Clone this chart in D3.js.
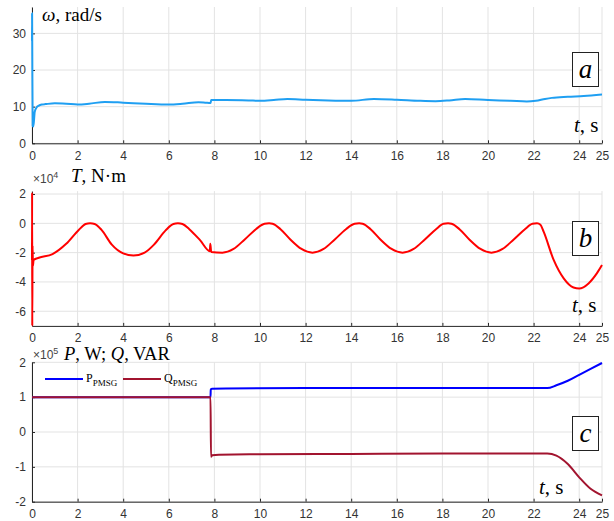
<!DOCTYPE html>
<html>
<head>
<meta charset="utf-8">
<script src="https://cdn.jsdelivr.net/npm/d3@7"></script>
<style>
  body { margin: 0; background: #fff; }
  .tick text { font-family: "Liberation Sans", Arial, sans-serif; font-size: 12px; fill: #333; }
  .serif { font-family: "Liberation Serif", "Times New Roman", serif; fill: #000; }
</style>
</head>
<body>
<div id="chart"></div>
<script>
// time axis ticks shared by all panels
const xTicks = [0, 2, 4, 6, 8, 10, 12, 14, 16, 18, 20, 22, 24, 25];

// (a) rotor speed, rad/s
const omegaT = [0, 0.004, 0.012, 0.03, 0.06, 0.12, 0.2, 0.3, 0.45, 0.6, 1.0, 1.5, 2.0, 2.5, 3.2, 4.0, 5.0, 6.0, 6.6, 7.3, 7.6, 7.83, 7.86, 8.5, 9.5, 10.0, 10.6, 11.2, 12.0, 13.0, 14.0, 15.0, 16.0, 17.0, 17.7, 18.3, 19.0, 20.0, 21.0, 21.7, 22.1, 22.5, 22.8, 23.5, 24.2, 25];
const omegaV = [28, 35.5, 25, 4.8, 4.6, 8.6, 9.8, 10.3, 10.6, 10.7, 10.9, 10.8, 10.6, 10.8, 11.3, 11.1, 10.8, 10.6, 10.8, 11.2, 11.1, 11.0, 11.8, 11.8, 11.7, 11.6, 11.8, 12.1, 11.9, 11.7, 11.6, 12.1, 11.9, 11.6, 11.5, 11.7, 12.1, 11.8, 11.6, 11.4, 11.6, 12.1, 12.4, 12.7, 12.9, 13.3];

// (b) torque, x10^4 N·m
const torqueT = [0, 0.005, 0.012, 0.025, 0.04, 0.07, 0.3, 0.9, 1.5, 2.05, 2.35, 2.55, 2.75, 3.05, 3.5, 4.0, 4.45, 4.94, 5.35, 5.85, 6.2, 6.4, 6.6, 6.9, 7.37, 7.8, 7.82, 7.86, 8.35, 8.84, 9.33, 9.82, 10.2, 10.4, 10.55, 10.9, 11.33, 11.82, 12.3, 12.79, 13.28, 13.77, 14.15, 14.35, 14.5, 14.85, 15.28, 15.77, 16.25, 16.74, 17.23, 17.72, 18.05, 18.25, 18.4, 18.75, 19.18, 19.67, 20.15, 20.64, 21.13, 21.62, 21.95, 22.15, 22.3, 22.44, 22.88, 23.32, 23.75, 24.0, 24.41, 24.78, 25];
const torqueV = [-2.5, 2.1, -7, -1.5, -2.9, -2.5, -2.35, -2.1, -1.4, -0.45, -0.05, 0, -0.05, -0.45, -1.45, -2.05, -2.2, -2.0, -1.45, -0.5, -0.05, 0, -0.05, -0.4, -1.15, -1.9, -1.4, -1.95, -2.0, -1.75, -1.1, -0.4, -0.03, 0, -0.03, -0.4, -1.1, -1.75, -2.0, -1.75, -1.1, -0.4, -0.03, 0, -0.03, -0.4, -1.1, -1.75, -2.0, -1.75, -1.1, -0.4, -0.03, 0, -0.03, -0.4, -1.1, -1.75, -2.0, -1.75, -1.1, -0.4, -0.03, 0, -0.1, -0.57, -2.5, -3.76, -4.38, -4.45, -4.1, -3.4, -2.85];

// (c) active and reactive power, x10^5
const pT = [0, 7.83, 7.84, 7.9, 8.5, 12, 16, 22.6, 23.0, 23.5, 24.0, 24.5, 25];
const pV = [1.0, 1.0, 1.22, 1.24, 1.25, 1.26, 1.26, 1.26, 1.34, 1.47, 1.64, 1.81, 1.98];
const qT = [0, 7.83, 7.85, 7.9, 8.2, 10, 14, 18, 22.6, 23.0, 23.5, 24.0, 24.5, 25];
const qV = [1.0, 1.0, -0.71, -0.67, -0.65, -0.64, -0.63, -0.62, -0.62, -0.68, -0.92, -1.3, -1.63, -1.82];

const legendNames = ['P', 'Q'];
const legendSub = 'PMSG';

const W = 614, H = 521;
const left = 32, right = 602;

const svg = d3.select('#chart').append('svg')
    .attr('width', W)
    .attr('height', H);

const x = d3.scaleLinear().domain([0, 25]).range([left, right]);

// plain labels like MATLAB: "-2", "0", "25"
const fmt = d => String(d);

// one panel: grid, axes and lines
function panel(cfg) {
    const y = d3.scaleLinear().domain(cfg.yDomain).range(cfg.yRange);
    const g = svg.append('g');
    const top = cfg.yRange[1], bottom = cfg.yRange[0];

    // grid
    g.append('g').selectAll('line').data(xTicks).join('line')
        .attr('x1', d => x(d)).attr('x2', d => x(d))
        .attr('y1', top).attr('y2', bottom)
        .attr('stroke', '#e3e3e3').attr('stroke-width', 1);
    g.append('g').selectAll('line').data(cfg.yTicks).join('line')
        .attr('x1', left).attr('x2', right)
        .attr('y1', d => y(d)).attr('y2', d => y(d))
        .attr('stroke', '#e3e3e3').attr('stroke-width', 1);

    // axes
    const xa = g.append('g')
        .attr('transform', 'translate(0,' + bottom + ')')
        .call(d3.axisBottom(x).tickValues(xTicks).tickFormat(fmt)
            .tickSizeInner(-3).tickSizeOuter(0).tickPadding(8));
    const ya = g.append('g')
        .attr('transform', 'translate(' + left + ',0)')
        .call(d3.axisLeft(y).tickValues(cfg.yTicks).tickFormat(fmt)
            .tickSizeInner(-3).tickSizeOuter(0).tickPadding(6));
    [xa, ya].forEach(a => {
        a.select('.domain').attr('stroke', '#262626');
        a.selectAll('.tick line').attr('stroke', '#262626');
    });

    // series
    cfg.series.forEach(s => {
        const pts = s.t.map((t, i) => [t, s.v[i]]);
        g.append('path')
            .datum(pts)
            .attr('fill', 'none')
            .attr('stroke', s.color)
            .attr('stroke-width', 2)
            .attr('stroke-linejoin', 'round')
            .attr('d', d3.line().x(d => x(d[0])).y(d => y(d[1])).curve(d3.curveMonotoneX));
    });

    // letter box
    g.append('rect')
        .attr('x', 572.5).attr('y', cfg.boxY)
        .attr('width', 26).attr('height', 34)
        .attr('fill', '#fff').attr('stroke', '#222').attr('stroke-width', 1);
    g.append('text').attr('class', 'serif')
        .attr('x', 585.5).attr('y', cfg.boxY + 25)
        .attr('text-anchor', 'middle')
        .style('font-size', '27px').style('font-style', 'italic')
        .text(cfg.letter);

    // "t, s"
    const ts = g.append('text').attr('class', 'serif')
        .attr('x', cfg.tsX).attr('y', cfg.tsY)
        .style('font-size', '21px');
    ts.append('tspan').style('font-style', 'italic').text('t');
    ts.append('tspan').text(', s');

    return { g, y };
}

// exponent note above the y axis
function multiplier(xPos, yPos, exp) {
    const t = svg.append('text')
        .attr('x', xPos).attr('y', yPos)
        .style('font-family', '"Liberation Sans", Arial, sans-serif')
        .style('font-size', '12px').style('fill', '#444');
    t.append('tspan').text('×10');
    t.append('tspan').attr('dy', -5).style('font-size', '9px').text(exp);
}

// (a)
panel({
    yDomain: [0, 37.2], yRange: [143.3, 7], yTicks: [0, 10, 20, 30],
    series: [{ t: omegaT, v: omegaV, color: '#1f9ff2' }],
    boxY: 52.5, letter: 'a', tsX: 574, tsY: 132
});
const ta = svg.append('text').attr('class', 'serif')
    .attr('x', 42).attr('y', 21).style('font-size', '19px');
ta.append('tspan').style('font-style', 'italic').text('ω');
ta.append('tspan').text(', rad/s');

// (b)
panel({
    yDomain: [-7, 2.2], yRange: [325.9, 191.1], yTicks: [-6, -4, -2, 0, 2],
    series: [{ t: torqueT, v: torqueV, color: '#ff0000' }],
    boxY: 221.5, letter: 'b', tsX: 572, tsY: 312
});
multiplier(33, 183, '4');
const tb = svg.append('text').attr('class', 'serif')
    .attr('x', 71).attr('y', 182).style('font-size', '19px');
tb.append('tspan').style('font-style', 'italic').text('T');
tb.append('tspan').text(', N·m');

// (c)
panel({
    yDomain: [-2, 2], yRange: [501.7, 362.3], yTicks: [-2, -1, 0, 1, 2],
    series: [
        { t: pT, v: pV, color: '#0000ff' },
        { t: qT, v: qV, color: '#a2142f' }
    ],
    boxY: 416.5, letter: 'c', tsX: 539, tsY: 494
});
multiplier(33, 359, '5');
const tc = svg.append('text').attr('class', 'serif')
    .attr('x', 64).attr('y', 360).style('font-size', '18.5px');
tc.append('tspan').style('font-style', 'italic').text('P');
tc.append('tspan').text(', W; ');
tc.append('tspan').style('font-style', 'italic').text('Q');
tc.append('tspan').text(', VAR');

// legend
const legendColors = ['#0000ff', '#a2142f'];
const legendX = [45, 123];
legendNames.forEach((n, i) => {
    svg.append('line')
        .attr('x1', legendX[i]).attr('x2', legendX[i] + 38)
        .attr('y1', 379).attr('y2', 379)
        .attr('stroke', legendColors[i]).attr('stroke-width', 2);
    const lt = svg.append('text').attr('class', 'serif')
        .attr('x', legendX[i] + 41).attr('y', 382)
        .style('font-size', '12px');
    lt.append('tspan').text(n);
    lt.append('tspan').attr('dy', 4).style('font-size', '9px').text(legendSub);
});
</script>
</body>
</html>
